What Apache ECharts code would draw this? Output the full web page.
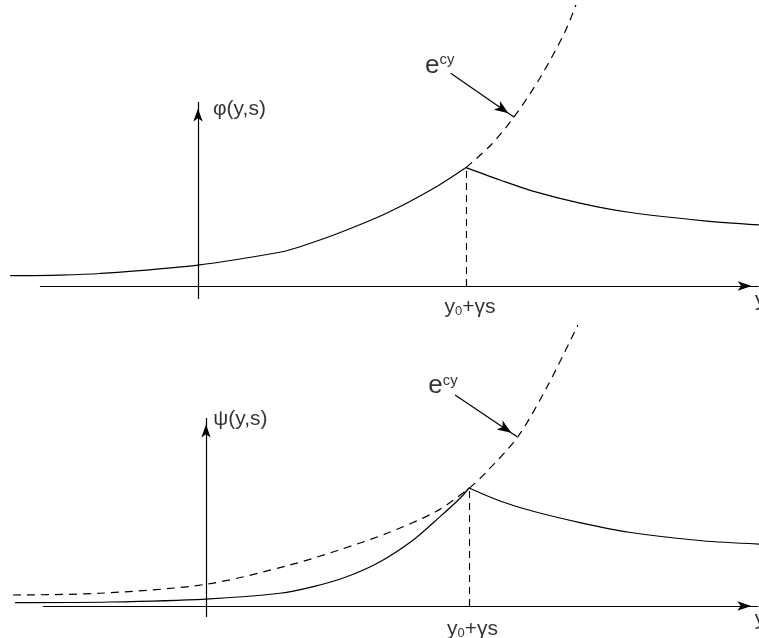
<!DOCTYPE html>
<html><head><meta charset="utf-8">
<script src="https://cdn.jsdelivr.net/npm/echarts@6/dist/echarts.min.js"></script>
<style>html,body{margin:0;padding:0;background:#fff;overflow:hidden}#c{width:759px;height:638px}</style>
</head><body><div id="c"></div>
<script>
// ---- data (x: vertical axis at 0, y0+γs at 10; value: peak = 10) ----
const peakX = 10;
const peakV = 10;
// top panel: φ(y,s)
const phiRise  = [[-7.01,0.87],[-5.15,0.92],[-3.66,1.05],[0,1.76],[3.1,2.86],[3.81,3.3],[5.26,4.45],[7.05,6.13],[8.88,8.32],[10,9.95]];
const phiDecay = [[10,9.95],[11.27,8.91],[12.46,8.0],[14.29,6.95],[16.08,6.2],[18.81,5.5],[20.93,5.13]];
const phiExp   = [[10,9.95],[10.93,11.85],[11.79,14.2],[12.76,17.48],[13.69,21.34],[14.1,23.61]];
const phiXAxis = [[-5.9,0],[20.92,0]];
const phiYAxis = [[0,-1.09],[0,15.46]];
const phiArrow = [[9.43,17.87],[11.8,14.18]];
const phiNameAt = [0.56,14.83];
const phiExpLabelAt = [9.02,18.51];
const phiPeakLabelAt = [10.15,-1.81];
const phiVarAt = [20.78,-1.18];
// bottom panel: ψ(y,s)
const psiRise  = [[-7.26,0.28],[-3.65,0.34],[0,0.59],[2.81,1.08],[4.08,1.64],[5.35,2.48],[6.62,3.75],[7.88,5.59],[8.9,7.57],[9.66,9.13],[10,10]];
const psiDecay = [[10,10],[11.18,8.9],[12.4,8.05],[14.26,7.05],[16.08,6.25],[18.86,5.53],[21.03,5.25]];
const psiExp   = [[-7.34,0.93],[-4.03,1.08],[0,1.84],[3.19,3.47],[5.06,4.75],[6.88,6.16],[8.73,7.99],[10,9.97],[10.67,11.38],[11.86,14.35],[13.0,18.7],[14.14,23.81]];
const psiXAxis = [[-6.2,0],[21.0,0]];
const psiYAxis = [[0,-0.93],[0,15.93]];
const psiArrow = [[9.47,17.88],[11.83,14.35]];
const psiNameAt = [0.28,15.85];
const psiExpLabelAt = [9.01,18.65];
const psiPeakLabelAt = [10.13,-1.98];
const psiVarAt = [20.87,-1.14];
// texts
const yNames = ['φ(y,s)', 'ψ(y,s)'];
const xName = 'y';
const peakLabel = '{a|y}{b|0}{a|+γs}';
const expLabel = '{e|e}{s|cy}';

const F = '"Liberation Sans", Arial, Helvetica, sans-serif';
const K = '#000';

function hiddenX(gi, min, max) {
  return { type: 'value', gridIndex: gi, min: min, max: max, show: false };
}
function hiddenY(gi, min, max) {
  return { type: 'value', gridIndex: gi, min: min, max: max, show: false };
}
function curve(gi, data, dashed) {
  return {
    type: 'line', xAxisIndex: gi, yAxisIndex: gi, data: data, smooth: 0.3, symbol: 'none', clip: false,
    lineStyle: { color: K, width: 1.2, type: dashed ? [8, 6] : 'solid' }, silent: true
  };
}
function seg(a, b, style, endArrow) {
  const from = { coord: a, symbol: 'none', lineStyle: style };
  const to = { coord: b, symbol: 'none', lineStyle: style };
  if (endArrow) {
    to.symbol = 'arrow';
    to.symbolSize = endArrow;
    to.symbolOffset = [0, endArrow[1] / 2];
  }
  return [from, to];
}
function marks(gi, xAx, yAx, arrow) {
  const solid = { color: K, width: 1.2, type: 'solid' };
  const dash = { color: K, width: 1.1, type: [7, 5] };
  return {
    type: 'line', xAxisIndex: gi, yAxisIndex: gi, data: [], clip: false, symbol: 'none', silent: true,
    markLine: {
      silent: true, animation: false, symbol: ['none', 'none'], label: { show: false },
      emphasis: { disabled: true },
      data: [
        seg(xAx[0], xAx[1], solid, [7, 14]),
        seg(yAx[0], yAx[1], solid, [7, 13]),
        seg([peakX, 0], [peakX, peakV], dash, null),
        seg([peakX, 0], [peakX, 0.42], solid, null),
        seg(arrow[0], arrow[1], solid, [8, 14])
      ]
    }
  };
}
const rich = {
  a: { fontSize: 21, fontFamily: F, color: K },
  b: { fontSize: 13, fontFamily: F, color: K, verticalAlign: 'bottom' },
  e: { fontSize: 26, fontFamily: F, color: K },
  s: { fontSize: 15, fontFamily: F, color: K, verticalAlign: 'top' }
};
function texts(gi, nameAt, name, expAt, peakAt, varAt) {
  const base = { show: true, position: 'inside', color: K, textBorderWidth: 0, rich: rich };
  return {
    type: 'scatter', xAxisIndex: gi, yAxisIndex: gi, symbolSize: 0, clip: false, silent: true,
    itemStyle: { color: K },
    label: base,
    data: [
      { value: nameAt, label: Object.assign({}, base, { formatter: name, fontSize: 21, fontFamily: F, align: 'left', verticalAlign: 'middle' }) },
      { value: expAt, label: Object.assign({}, base, { formatter: expLabel, align: 'center', verticalAlign: 'middle' }) },
      { value: peakAt, label: Object.assign({}, base, { formatter: peakLabel, align: 'center', verticalAlign: 'middle' }) },
      { value: varAt, label: Object.assign({}, base, { formatter: xName, fontSize: 21, fontFamily: F, align: 'left', verticalAlign: 'middle' }) }
    ]
  };
}

const chart = echarts.init(document.getElementById('c'), null, { renderer: 'canvas' });
chart.setOption({
  animation: false,
  backgroundColor: '#fff',
  grid: [
    { left: 0, top: 0, width: 759, height: 320 },
    { left: 0, top: 320, width: 759, height: 318 }
  ],
  xAxis: [ hiddenX(0, -7.388, 20.933), hiddenX(1, -7.833, 21.027) ],
  yAxis: [ hiddenY(0, -2.857, 24.034), hiddenY(1, -2.712, 24.237) ],
  series: [
    curve(0, phiRise, false), curve(0, phiDecay, false), curve(0, phiExp, true),
    marks(0, phiXAxis, phiYAxis, phiArrow),
    texts(0, phiNameAt, yNames[0], phiExpLabelAt, phiPeakLabelAt, phiVarAt),
    curve(1, psiRise, false), curve(1, psiDecay, false), curve(1, psiExp, true),
    marks(1, psiXAxis, psiYAxis, psiArrow),
    texts(1, psiNameAt, yNames[1], psiExpLabelAt, psiPeakLabelAt, psiVarAt)
  ]
});
</script>
</body></html>
